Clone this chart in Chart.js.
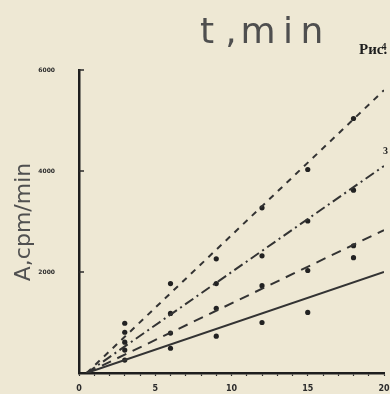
<!DOCTYPE html>
<html>
<head>
<meta charset="utf-8">
<script src="https://cdn.jsdelivr.net/npm/chart.js@4.4.0/dist/chart.umd.min.js"></script>
<style>
html, body { margin: 0; padding: 0; background: #eee8d4; }
</style>
</head>
<body>
<canvas id="mainCanvas" width="390" height="394"></canvas>
<script>
// measured points, minutes vs cpm/min
const sampleTimes = [3, 6, 9, 12, 15, 18];
const series1 = [256, 490, 730, 1000, 1200, null];
const series2 = [610, 790, 1280, 1730, 2030, 2520];
const series3 = [807, 1180, 1770, 2320, 3010, 3620];
const series4 = [985, 1770, 2260, 3270, 4030, 5040];
const extraTimes = [3, 18];
const extraValues = [453, 2283];

// fitted lines: start time and value at t = 20
const fitStartTime = 0.5;
const fitEndTime = 20;
const fitEndValues = [2000, 2830, 4100, 5600];
const lineLabels = ['1', '2', '3', '4'];
const lineDashes = [[], [10, 7], [10, 4, 2, 4], [6, 6]];

const xTickLabels = [0, 5, 10, 15, 20];
const yTickLabels = [2000, 4000, 6000];

const ink = '#2b2b2b';

function pts(values) {
    let out = [];
    for (let i = 0; i < sampleTimes.length; i++) {
        if (values[i] != null) out.push({ x: sampleTimes[i], y: values[i] });
    }
    return out;
}

let datasets = [];
[series1, series2, series3, series4].forEach((s, i) => {
    datasets.push({
        showLine: true,
        data: [{ x: fitStartTime, y: 0 }, { x: fitEndTime, y: fitEndValues[i] }],
        borderColor: '#333',
        borderWidth: 2,
        borderDash: lineDashes[i],
        pointRadius: 0
    });
    datasets.push({
        data: pts(s),
        pointRadius: 2.6,
        backgroundColor: '#222',
        borderWidth: 0
    });
});
datasets.push({
    data: extraTimes.map((t, i) => ({ x: t, y: extraValues[i] })),
    pointRadius: 2.6,
    backgroundColor: '#222',
    borderWidth: 0
});

const paper = {
    id: 'paper',
    beforeDraw(chart) {
        const c = chart.ctx;
        c.save();
        c.fillStyle = '#eee8d4';
        c.fillRect(0, 0, chart.width, chart.height);
        c.restore();
    }
};

const notes = {
    id: 'notes',
    afterDraw(chart) {
        const c = chart.ctx;
        const xs = chart.scales.x, ys = chart.scales.y;
        c.save();

        // inward ticks on the value axis
        c.strokeStyle = ink;
        c.lineWidth = 1.5;
        yTickLabels.forEach(v => {
            let py = ys.getPixelForValue(v);
            c.beginPath();
            c.moveTo(xs.left, py);
            c.lineTo(xs.left + 5, py);
            c.stroke();
        });

        // heading "t,min"
        c.fillStyle = '#4f4f4f';
        c.font = '36px "DejaVu Sans"';
        c.textAlign = 'center';
        c.textBaseline = 'alphabetic';
        const chars = ['t', ',', 'm', 'i', 'n'];
        const cx = [207, 231, 258, 288, 312];
        chars.forEach((ch, i) => c.fillText(ch, cx[i], 43));

        // page text peeking in
        c.fillStyle = '#1e1e1e';
        c.font = 'bold 15px "Liberation Serif"';
        c.textAlign = 'left';
        c.fillText('Рис.', 359, 54);

        // value axis title
        c.fillStyle = '#505050';
        c.font = '22px "DejaVu Sans"';
        c.translate(30, 222);
        c.rotate(-Math.PI / 2);
        c.textAlign = 'center';
        c.fillText('A,cpm/min', 0, 0);
        c.setTransform(1, 0, 0, 1, 0, 0);

        // curve numbers
        c.fillStyle = '#1e1e1e';
        c.font = 'bold 10px "Liberation Serif"';
        c.textAlign = 'center';
        c.textBaseline = 'middle';
        c.fillText(lineLabels[3], xs.getPixelForValue(20), ys.getPixelForValue(6440));
        c.fillText(lineLabels[2], xs.getPixelForValue(20.1), ys.getPixelForValue(4380));
        c.restore();
    }
};

var ChartObj = new Chart(document.getElementById('mainCanvas'), {
    type: 'scatter',
    data: { datasets: datasets },
    plugins: [paper, notes],
    options: {
        responsive: false,
        animation: false,
        devicePixelRatio: 1,
        layout: { padding: { top: 70, right: 6, left: 0, bottom: 0 } },
        plugins: { legend: { display: false }, tooltip: { enabled: false } },
        scales: {
            x: {
                type: 'linear',
                min: 0,
                max: 20,
                afterFit: s => { s.height = 21; s.paddingLeft = 0; s.paddingRight = 0; },
                ticks: {
                    stepSize: 1,
                    autoSkip: false,
                    maxRotation: 0,
                    callback: v => xTickLabels.includes(v) ? String(v) : '',
                    font: { family: 'DejaVu Sans', size: 8, weight: 'bold' },
                    color: ink,
                    padding: 8
                },
                grid: { drawOnChartArea: false, tickLength: 3, color: ink, tickWidth: 1.2 },
                border: { color: '#1e1e1e', width: 2.5 }
            },
            y: {
                min: 0,
                max: 6000,
                afterFit: s => { s.width = 79; s.paddingTop = 0; s.paddingBottom = 0; },
                ticks: {
                    stepSize: 2000,
                    callback: v => yTickLabels.includes(v) ? String(v) : '',
                    font: { family: 'DejaVu Sans', size: 6, weight: 'bold' },
                    color: ink,
                    padding: 24
                },
                grid: { drawOnChartArea: false, drawTicks: false },
                border: { color: '#1e1e1e', width: 2.5 }
            }
        }
    }
});
</script>
</body>
</html>
